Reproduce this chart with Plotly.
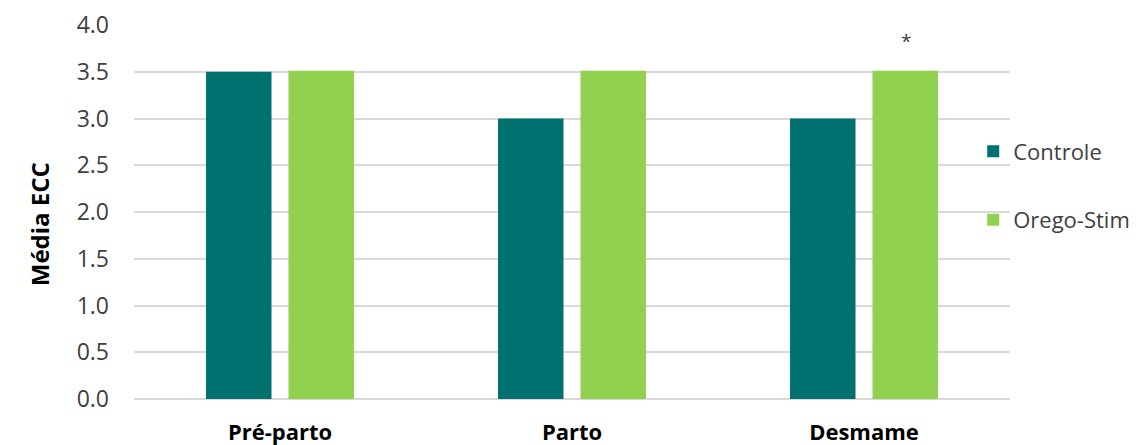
import plotly.graph_objects as go

categories = ["Pré-parto", "Parto", "Desmame"]
controle = [3.5, 3.0, 3.0]
orego = [3.51, 3.51, 3.51]
y_ticks = [0.0, 0.5, 1.0, 1.5, 2.0, 2.5, 3.0, 3.5, 4.0]
y_title = "Média ECC"
star_label = "*"
star_y = 3.83

font_family = "Open Sans, Noto Sans, sans-serif"

fig = go.Figure()
fig.add_trace(go.Bar(name="Controle", x=categories, y=controle,
                     marker=dict(color="#00716F", line=dict(width=0)),
                     legendgroup="a"))
fig.add_trace(go.Bar(name="Orego-Stim", x=categories, y=orego,
                     marker=dict(color="#92D050", line=dict(width=0)),
                     legendgroup="b"))

fig.add_annotation(x=categories[2], y=star_y, text=star_label, showarrow=False,
                   xshift=42, font=dict(size=19, color="#404040", family=font_family))

fig.add_annotation(xref="paper", yref="paper", x=-0.107, y=0.468,
                   xanchor="center", yanchor="middle", textangle=-90,
                   text=y_title, showarrow=False,
                   font=dict(size=24, color="black", weight="bold", family=font_family))

fig.update_layout(
    width=1140, height=445,
    margin=dict(l=134, r=130, t=25, b=46, autoexpand=False),
    paper_bgcolor="white", plot_bgcolor="white",
    barmode="group", bargap=0.435, bargroupgap=0.206,
    font=dict(family=font_family, color="#404040", size=22),
    showlegend=True,
    legend=dict(x=0.958, xanchor="left", y=0.718, yanchor="top",
                font=dict(size=22, color="#404040"),
                tracegroupgap=37, bgcolor="rgba(0,0,0,0)"),
    xaxis=dict(showgrid=False, showline=False, ticks="",
               tickfont=dict(size=22, color="black", weight="bold"),
               ticklabelstandoff=18),
    yaxis=dict(range=[0, 4.0], tickvals=y_ticks, tickformat=".1f",
               showgrid=True, gridcolor="#D9D9D9", gridwidth=1.5,
               zeroline=True, zerolinecolor="#D9D9D9", zerolinewidth=1.5,
               showline=False, ticks="", ticklabelstandoff=24,
               tickfont=dict(size=23, color="#404040")),
)

fig.write_html("out.html")
